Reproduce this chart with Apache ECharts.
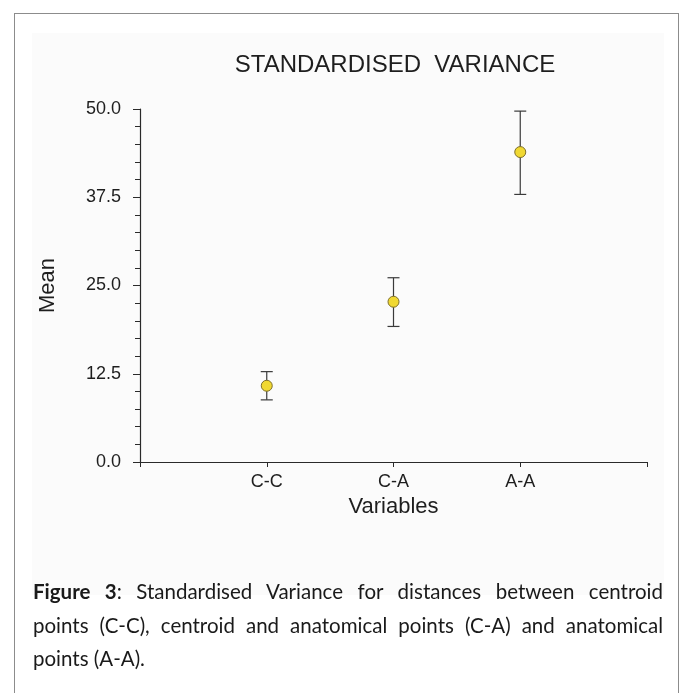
<!DOCTYPE html>
<html><head><meta charset="utf-8">
<script src="https://cdn.jsdelivr.net/npm/echarts@6/dist/echarts.min.js"></script>
<style>
html,body{margin:0;padding:0;background:#fff;overflow:hidden;}
#frame{position:absolute;left:14px;top:13px;width:665px;height:700px;border:1.5px solid #8c8c8c;border-bottom:none;box-sizing:border-box;}
#shade{position:absolute;left:32px;top:33px;width:632px;height:562px;background:#fbfbfb;}
#chart{position:absolute;left:0;top:0;width:686px;height:693px;}
#caption{position:absolute;left:33px;top:575px;width:630px;font-family:Lato,"Open Sans",sans-serif;font-size:20.5px;line-height:33.5px;color:#1a1a1a;}
.l{text-align:justify;text-align-last:justify;white-space:nowrap;}
.l.last{text-align:left;text-align-last:left;}
</style></head>
<body>
<div id="frame"></div>
<div id="shade"></div>
<div id="chart"></div>
<div id="caption">
<div class="l"><b>Figure 3</b>: Standardised Variance for distances between centroid</div>
<div class="l">points (C-C), centroid and anatomical points (C-A) and anatomical</div>
<div class="l last">points (A-A).</div>
</div>
<script>
const categories = ['C-C', 'C-A', 'A-A'];
const means = [10.8, 22.7, 43.9];
const upper = [12.8, 26.1, 49.7];
const lower = [8.8, 19.2, 37.9];
const yTicks = [0, 12.5, 25, 37.5, 50];

const chart = echarts.init(document.getElementById('chart'), null, {renderer: 'canvas'});
const pts = categories.map((c, i) => [i + 1, means[i]]);
const bars = categories.map((c, i) => [i + 1, lower[i], upper[i]]);
const ink = '#2a2a2a';
const txt = '#1e1e1e';
chart.setOption({
  backgroundColor: 'transparent',
  animation: false,
  title: {
    text: 'STANDARDISED  VARIANCE',
    left: 390, top: 48, textAlign: 'center',
    textStyle: {fontFamily: 'Liberation Sans', fontSize: 24, fontWeight: 'normal', color: txt}
  },
  grid: {left: 140, right: 39, top: 109, bottom: 231},
  xAxis: {
    type: 'value', min: 0, max: 4, interval: 1,
    name: 'Variables', nameLocation: 'middle', nameGap: 34,
    nameTextStyle: {fontFamily: 'Liberation Sans', fontSize: 22, color: txt},
    axisLine: {lineStyle: {color: ink, width: 1.2}},
    axisTick: {show: true, length: 5, lineStyle: {color: ink}},
    splitLine: {show: false},
    axisLabel: {
      fontFamily: 'Liberation Sans', fontSize: 18, color: txt, margin: 11,
      formatter: v => categories[v - 1] || ''
    }
  },
  yAxis: {
    type: 'value', min: yTicks[0], max: yTicks[yTicks.length - 1], interval: 12.5,
    name: 'Mean', nameLocation: 'middle', nameGap: 81, nameRotate: 90,
    nameTextStyle: {fontFamily: 'Liberation Sans', fontSize: 22, color: txt},
    axisLine: {show: true, lineStyle: {color: ink, width: 1.2}},
    axisTick: {show: true, length: 7, lineStyle: {color: ink}},
    minorTick: {show: true, splitNumber: 5, length: 5, lineStyle: {color: ink}},
    splitLine: {show: false},
    axisLabel: {
      fontFamily: 'Liberation Sans', fontSize: 18, color: txt, margin: 19,
      formatter: v => v.toFixed(1)
    }
  },
  series: [
    {
      type: 'custom',
      data: bars,
      renderItem: (params, api) => {
        const x = api.value(0);
        const lo = api.coord([x, api.value(1)]);
        const hi = api.coord([x, api.value(2)]);
        const w = 6;
        const st = {stroke: '#3a3a3a', lineWidth: 1.2};
        return {type: 'group', children: [
          {type: 'line', shape: {x1: lo[0], y1: lo[1], x2: hi[0], y2: hi[1]}, style: st},
          {type: 'line', shape: {x1: lo[0] - w, y1: lo[1], x2: lo[0] + w, y2: lo[1]}, style: st},
          {type: 'line', shape: {x1: hi[0] - w, y1: hi[1], x2: hi[0] + w, y2: hi[1]}, style: st}
        ]};
      },
      z: 2
    },
    {
      type: 'scatter',
      data: pts,
      symbol: 'circle', symbolSize: 11,
      itemStyle: {color: '#f0d832', borderColor: '#7d6e2a', borderWidth: 1, opacity: 1},
      z: 3
    }
  ]
});
</script>
</body></html>
